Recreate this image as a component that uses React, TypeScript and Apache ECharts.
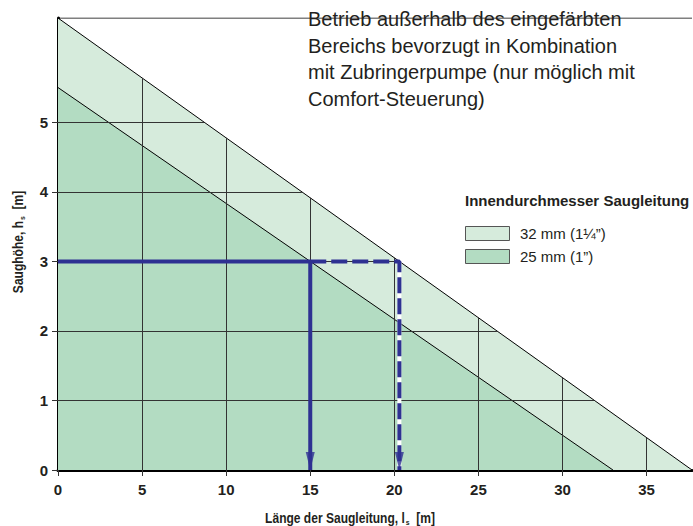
import React, { useEffect, useRef } from 'react';
import * as echarts from 'echarts';

const xTicks = [0, 5, 10, 15, 20, 25, 30, 35];
const yTicks = [0, 1, 2, 3, 4, 5];
const xMax = 37.7;
const yMax = 6.5;
const pipe32: number[][] = [[0, 6.5], [37.7, 0]];
const pipe25: number[][] = [[0, 5.5], [33, 0]];
const seriesNames = ['32 mm (1¼”)', '25 mm (1”)'];
const solidPath: number[][] = [[0, 3], [15, 3], [15, 0]];
const dashedPath: number[][] = [[15, 3], [20.3, 3], [20.3, 0]];
const noteLines = [
  'Betrieb außerhalb des eingefärbten',
  'Bereichs bevorzugt in Kombination',
  'mit Zubringerpumpe (nur möglich mit',
  'Comfort-Steuerung)',
];
const legendTitle = 'Innendurchmesser Saugleitung';
const xTitle = ['Länge der Saugleitung, l', 's', '  [m]'];
const yTitle = ['Saughöhe, h', 's', '  [m]'];

const FONT = '"Liberation Sans", Arial, Helvetica, sans-serif';
const C32 = '#d6ebdc';
const C25 = '#b3dcc2';
const BLUE = '#2e3192';
const INK = '#231f20';

export default function App() {
  const ref = useRef<HTMLDivElement>(null);
  useEffect(() => {
    if (!ref.current) return;
    const chart = echarts.init(ref.current, null, { renderer: 'svg' });
    const x0 = pipe32[0][1];
    const xEnd = pipe32[1][0];
    const top32 = (x: number) => x0 * (1 - x / xEnd);
    const right32 = (y: number) => xEnd * (1 - y / x0);
    const gridSegs: number[][][] = [];
    xTicks.filter((v) => v > 0).forEach((v) => gridSegs.push([[v, 0], [v, top32(v)]]));
    yTicks.filter((v) => v > 0).forEach((v) => gridSegs.push([[0, v], [right32(v), v]]));

    const rich = {
      a: { fontSize: 14, fontWeight: 'bold', fontFamily: FONT, fill: INK, color: INK },
      s: { fontSize: 8, fontWeight: 'bold', fontFamily: FONT, fill: INK, color: INK, padding: [8, 0, 0, 1] },
    };

    chart.setOption({
      animation: false,
      backgroundColor: '#ffffff',
      grid: { left: 58, right: 1, top: 18, bottom: 56 },
      xAxis: {
        type: 'value',
        min: 0,
        max: xMax,
        splitLine: { show: false },
        axisLine: { show: true, onZero: false, lineStyle: { color: '#000', width: 3 } },
        axisTick: { show: true, length: 6, customValues: xTicks, lineStyle: { color: '#333', width: 1 } },
        axisLabel: {
          customValues: xTicks,
          margin: 12,
          fontSize: 15,
          fontWeight: 'bold',
          fontFamily: FONT,
          color: INK,
        },
      },
      yAxis: {
        type: 'value',
        min: 0,
        max: yMax,
        splitLine: { show: false },
        axisLine: { show: true, onZero: false, lineStyle: { color: '#000', width: 3 } },
        axisTick: { show: true, length: 6, customValues: yTicks, lineStyle: { color: '#333', width: 1 } },
        axisLabel: {
          customValues: yTicks,
          margin: 10,
          fontSize: 15,
          fontWeight: 'bold',
          fontFamily: FONT,
          color: INK,
        },
      },
      series: [
        {
          name: seriesNames[0],
          type: 'line',
          data: pipe32,
          symbol: 'none',
          itemStyle: { color: C32 },
          lineStyle: { color: '#000', width: 1 },
          areaStyle: { color: C32, opacity: 1 },
          z: 1,
        },
        {
          name: seriesNames[1],
          type: 'line',
          data: pipe25,
          symbol: 'none',
          itemStyle: { color: C25 },
          lineStyle: { color: '#000', width: 1 },
          areaStyle: { color: C25, opacity: 1 },
          z: 2,
        },
        {
          type: 'lines',
          coordinateSystem: 'cartesian2d',
          silent: true,
          data: gridSegs.map((c) => ({ coords: c })),
          lineStyle: { color: '#333333', width: 1, opacity: 1 },
          z: 3,
        },
        {
          type: 'line',
          data: [[0, yMax], [xMax, yMax]],
          symbol: 'none',
          lineStyle: { color: '#000', width: 1 },
          z: 3,
        },
        {
          type: 'line',
          data: dashedPath.slice(1),
          symbol: 'none',
          lineStyle: { color: '#ffffff', width: 4 },
          z: 4,
        },
        {
          type: 'line',
          data: dashedPath,
          symbol: 'none',
          lineStyle: { color: BLUE, width: 4, type: [16, 5], cap: 'butt' },
          z: 5,
        },
        {
          type: 'line',
          data: solidPath,
          symbol: 'none',
          lineStyle: { color: BLUE, width: 4 },
          z: 5,
        },
        {
          type: 'scatter',
          data: [solidPath[2], dashedPath[2]],
          symbol: 'triangle',
          symbolRotate: 180,
          symbolSize: [9, 18],
          symbolOffset: [0, -9],
          itemStyle: { color: BLUE },
          z: 6,
        },
      ],
      graphic: [
        {
          type: 'text',
          left: 308,
          top: 6,
          z: 10,
          style: {
            text: noteLines.join('\n'),
            fontSize: 20,
            lineHeight: 26.5,
            fontFamily: FONT,
            fill: INK,
          },
        },
        {
          type: 'text',
          left: 465,
          top: 193,
          style: {
            text: legendTitle,
            fontSize: 15,
            fontWeight: 'bold',
            fontFamily: FONT,
            fill: INK,
          },
        },
        {
          type: 'rect',
          shape: { x: 465.5, y: 226.5, width: 44, height: 14 },
          style: { fill: C32, stroke: '#555', lineWidth: 1 },
        },
        {
          type: 'rect',
          shape: { x: 465.5, y: 249.5, width: 44, height: 14 },
          style: { fill: C25, stroke: '#555', lineWidth: 1 },
        },
        {
          type: 'text',
          x: 520,
          y: 233.5,
          style: { text: seriesNames[0], fontSize: 15, fontFamily: FONT, fill: INK, verticalAlign: 'middle' },
        },
        {
          type: 'text',
          x: 520,
          y: 256.5,
          style: { text: seriesNames[1], fontSize: 15, fontFamily: FONT, fill: INK, verticalAlign: 'middle' },
        },
        {
          type: 'text',
          x: 350,
          y: 518,
          scaleX: 0.86,
          style: {
            text: `{a|${xTitle[0]}}{s|${xTitle[1]}}{a|${xTitle[2]}}`,
            rich,
            align: 'center',
            verticalAlign: 'middle',
          },
        },
        {
          type: 'text',
          x: 18,
          y: 242,
          rotation: Math.PI / 2,
          scaleX: 0.86,
          style: {
            text: `{a|${yTitle[0]}}{s|${yTitle[1]}}{a|${yTitle[2]}}`,
            rich,
            align: 'center',
            verticalAlign: 'middle',
          },
        },
      ],
    });
    return () => chart.dispose();
  }, []);
  return (
    <div
      ref={ref}
      style={{ position: 'fixed', left: 0, top: 0, width: 693, height: 526, background: '#fff' }}
    />
  );
}
